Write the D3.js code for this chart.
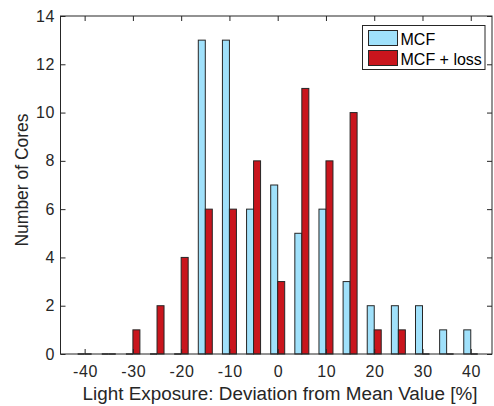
<!DOCTYPE html>
<html>
<head>
<meta charset="utf-8">
<script src="https://cdn.jsdelivr.net/npm/d3@7"></script>
<style>
  html, body { margin: 0; padding: 0; background: #fff; }
  svg { display: block; font-family: "Liberation Sans", Arial, Helvetica, sans-serif; }
</style>
</head>
<body>
<svg id="chart" width="494" height="406"></svg>
<script>
// Histogram bin centres (deviation from mean, %)
const bins = [-40, -35, -30, -25, -20, -15, -10, -5, 0, 5, 10, 15, 20, 25, 30, 35, 40];
// Counts per bin for each method
const mcf     = [0, 0, 0, 0, 0, 13, 13, 6, 7, 5, 6, 3, 2, 2, 2, 1, 1];
const mcfLoss = [0, 0, 1, 2, 4, 6, 6, 8, 3, 11, 8, 10, 1, 1, 0, 0, 0];
const seriesNames = ["MCF", "MCF + loss"];
const xTicks = [-40, -30, -20, -10, 0, 10, 20, 30, 40];
const yTicks = [0, 2, 4, 6, 8, 10, 12, 14];

const colors = ["#a0e1fb", "#c9151d"];
const edge = "#262626";
const axisColor = "#262626";

const svg = d3.select("#chart");
const plot = { left: 60.5, right: 492, top: 16, bottom: 354 };

const x = d3.scaleLinear().domain([-45, 44.4]).range([plot.left, plot.right]);
const y = d3.scaleLinear().domain([0, 14]).range([plot.bottom, plot.top]);
const barW = 1.45; // width of each bar in data units

const series = [mcf, mcfLoss];
const g = svg.append("g");

series.forEach((vals, si) => {
  const offset = si === 0 ? -barW : 0;
  vals.forEach((v, i) => {
    const x0 = x(bins[i] + offset), x1 = x(bins[i] + offset + barW);
    if (v > 0) {
      g.append("rect")
        .attr("x", x0).attr("y", y(v))
        .attr("width", x1 - x0).attr("height", y(0) - y(v))
        .attr("fill", colors[si])
        .attr("stroke", edge).attr("stroke-width", 1);
    } else {
      g.append("line")
        .attr("x1", x0).attr("x2", x1)
        .attr("y1", y(0)).attr("y2", y(0))
        .attr("stroke", edge).attr("stroke-width", 1.5);
    }
  });
});

// Box
svg.append("rect")
  .attr("x", plot.left).attr("y", plot.top)
  .attr("width", plot.right - plot.left).attr("height", plot.bottom - plot.top)
  .attr("fill", "none").attr("stroke", axisColor).attr("stroke-width", 1);

const tickLen = 5;
const plainFmt = d => String(d); // hyphen-minus for negatives
// Bottom axis: ticks pointing inward, mirrored on top
const xAxis = d3.axisBottom(x).tickValues(xTicks).tickFormat(plainFmt)
  .tickSizeInner(-tickLen).tickSizeOuter(0).tickPadding(11.5);
const gx = svg.append("g").attr("transform", `translate(0,${plot.bottom})`).call(xAxis);
const xAxisTop = d3.axisTop(x).tickValues(xTicks).tickSizeInner(-tickLen).tickSizeOuter(0).tickFormat("");
const gxt = svg.append("g").attr("transform", `translate(0,${plot.top})`).call(xAxisTop);

const yAxis = d3.axisLeft(y).tickValues(yTicks).tickFormat(plainFmt)
  .tickSizeInner(-tickLen).tickSizeOuter(0).tickPadding(5.5);
const gy = svg.append("g").attr("transform", `translate(${plot.left},0)`).call(yAxis);
const yAxisRight = d3.axisRight(y).tickValues(yTicks).tickSizeInner(-tickLen).tickSizeOuter(0).tickFormat("");
const gyr = svg.append("g").attr("transform", `translate(${plot.right},0)`).call(yAxisRight);

[gx, gxt, gy, gyr].forEach(a => {
  a.select(".domain").remove();
  a.selectAll(".tick line").attr("stroke", axisColor);
  a.selectAll(".tick text")
    .attr("fill", axisColor)
    .style("font-size", "16px")
    .style("letter-spacing", "0.6px")
    .style("font-family", "'Liberation Sans', Arial, sans-serif");
});
gx.selectAll(".tick text").attr("dy", "0.71em").attr("dx", "0.3px");

// Axis titles
svg.append("text")
  .attr("x", 82.5).attr("y", 400)
  .attr("text-anchor", "start")
  .attr("fill", axisColor)
  .attr("textLength", 395)
  .attr("lengthAdjust", "spacingAndGlyphs")
  .style("font-size", "18px")
  .text("Light Exposure: Deviation from Mean Value [%]");

svg.append("text")
  .attr("transform", `translate(28,180) rotate(-90)`)
  .attr("text-anchor", "middle")
  .attr("fill", axisColor)
  .attr("textLength", 133)
  .attr("lengthAdjust", "spacingAndGlyphs")
  .style("font-size", "18px")
  .text("Number of Cores");

// Legend
const lg = svg.append("g");
lg.append("rect")
  .attr("x", 362.5).attr("y", 25.5).attr("width", 122.5).attr("height", 44)
  .attr("fill", "#fff").attr("stroke", axisColor).attr("stroke-width", 1);
seriesNames.forEach((name, i) => {
  lg.append("rect")
    .attr("x", 368.5).attr("y", 30.5 + i * 20).attr("width", 29).attr("height", 15)
    .attr("fill", colors[i]).attr("stroke", edge).attr("stroke-width", 1);
  lg.append("text")
    .attr("x", 400.5).attr("y", 44.5 + i * 20)
    .attr("fill", "#000")
    .style("font-size", "16px")
    .text(name);
});
</script>
</body>
</html>
